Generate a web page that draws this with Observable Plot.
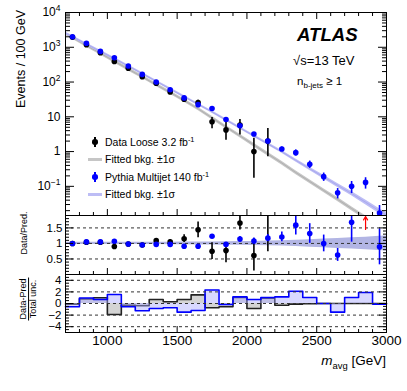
<!DOCTYPE html>
<html><head><meta charset="utf-8">
<script src="https://cdn.jsdelivr.net/npm/d3@7"></script>
<script src="https://cdn.jsdelivr.net/npm/@observablehq/plot@0.6"></script>
<style>
html,body{margin:0;padding:0;background:#fff;}
#wrap{position:relative;width:407px;height:391px;overflow:hidden;font-family:"Liberation Sans",Arial,Helvetica,sans-serif;color:#000;}
#wrap svg{position:absolute;left:0;}
.t{position:absolute;white-space:nowrap;line-height:1;}
.t sub,.t sup{font-size:0.7em;line-height:0;}
.sym{position:absolute;}
</style></head><body>
<div id="wrap"></div>
<script>
// ---------------- data ----------------
const binCenters = [750,850,950,1050,1150,1250,1350,1450,1550,1650,1750,1850,1950,2050,2150,2250,2350,2450,2550,2650,2750,2850,2950];
const binWidth = 100;

// Pythia Multijet 140 fb-1 (blue)
const pythiaEvents = [2000,1300,760,500,290,166,100,60,35,22.4,17.4,8.4,5.5,3.2,2.0,1.19,0.93,0.43,0.19,0.065,0.10,0.13,0.017];
const pythiaRelErr = [0.01,0.01,0.01,0.01,0.01,0.015,0.02,0.02,0.04,0.04,0.05,0.05,0.07,0.09,0.10,0.13,0.20,0.24,0.27,0.33,0.38,0.36,0.65];
const ratioPythia = [1.0,1.05,1.05,1.07,0.98,0.95,0.97,0.97,0.91,0.91,1.23,0.97,1.14,1.08,1.17,1.21,1.59,1.32,1.0,0.63,1.68,3.7,0.89];
const sigPythia = [-0.57,0.95,0.7,1.54,-0.57,-1.26,-0.86,-0.74,-1.49,-1.2,2.34,-0.17,1.14,0.69,1.03,1.14,2.1,1.03,0,-1.49,1.03,1.89,-0.1];

// Data Loose 3.2 fb-1 (black)
const dataCenters = [750,850,950,1050,1150,1250,1350,1450,1550,1650,1750,1850,1950,2050,2150];
const dataEvents = [1950,1180,700,390,250,142,92,52,32,25.7,7.2,4.2,5.8,1.0,2.0];
const dataErrLow = [1900,1150,680,378,242,136,87,48,29,22,4.5,2.1,3.0,0.17,0.71];
const dataErrHigh = [2000,1210,720,402,258,148,97,56,35,30,9.6,7.5,8.4,2.4,4.6];
const ratioData = [1.0,1.04,1.04,0.90,0.98,0.95,1.09,1.05,1.15,1.44,0.75,0.77,1.66,0.61,2.1];
const ratioDataLow = [0.98,1.02,1.01,0.86,0.94,0.90,1.03,0.98,1.03,1.18,0.48,0.38,1.43,0.11,0.73];
const ratioDataHigh = [1.02,1.06,1.07,0.94,1.02,1.0,1.15,1.12,1.28,1.69,1.02,1.03,2.0,1.15,3.0];
const sigData = [-0.1,0.8,1.0,-1.9,-0.3,-0.4,0.69,0.29,0.69,1.49,-0.74,-0.57,1.03,-0.86,0.91,-0.29,-0.1,-0.05,0,0,0,0,0];

// fitted background curves
const fitMass = [700,750,850,950,1050,1150,1250,1350,1450,1550,1650,1750,1850,1950,2050,2150,2250,2350,2450,2550,2650,2750,2850,2950,3000];
const fitPythia = [2540,1995,1230,759,468,288,174,105,63,38,22.9,13.8,8.1,4.8,2.8,1.66,0.98,0.56,0.32,0.186,0.107,0.062,0.035,0.0195,0.0148];
const fitPythiaUnc = [0.08,0.08,0.08,0.08,0.08,0.08,0.08,0.08,0.08,0.08,0.08,0.08,0.08,0.08,0.085,0.09,0.09,0.1,0.11,0.12,0.13,0.14,0.15,0.17,0.18];
const fitData = [2450,1905,1122,676,398,234,141,83,50,29.5,17.0,9.3,5.1,2.82,1.55,0.85,0.47,0.25,0.138,0.076,0.042,0.023,0.0126,0.0069,0.005];
const fitDataUnc = [0.11,0.11,0.11,0.11,0.11,0.11,0.11,0.11,0.11,0.11,0.11,0.11,0.11,0.11,0.12,0.12,0.12,0.12,0.12,0.13,0.13,0.13,0.13,0.13,0.13];
const ratioBandUnc = [0.035,0.035,0.035,0.035,0.035,0.035,0.035,0.035,0.04,0.045,0.05,0.05,0.055,0.06,0.065,0.075,0.085,0.1,0.12,0.14,0.16,0.18,0.2,0.23,0.24];

// axes
const xDomain = [700, 3000];
const xTickValues = [1000,1500,2000,2500,3000];
const xTickLabels = ["1000","1500","2000","2500","3000"];
const topYDomain = [0.0145, 10000];
const topYTicks = [0.1,1,10,100,1000,10000];
const topYTickLabels = ["10^\u22121","1","10","10^2","10^3","10^4"];
const ratioYDomain = [0, 1.9];
const ratioYTicks = [0.5,1,1.5];
const ratioYTickLabels = ["0.5","1","1.5"];
const sigYDomain = [-5, 5];
const sigYTicks = [-4,-2,0,2,4];
const sigYTickLabels = ["\u22124","\u22122","0","2","4"];

// ---------------- build rows ----------------
const pyRows = binCenters.map((x,i)=>({x, y:pythiaEvents[i], lo:pythiaEvents[i]*(1-pythiaRelErr[i]), hi:pythiaEvents[i]*(1+pythiaRelErr[i]),
  r:ratioPythia[i], rlo:ratioPythia[i]*(1-pythiaRelErr[i]), rhi:ratioPythia[i]*(1+pythiaRelErr[i])}));
const dataRows = dataCenters.map((x,i)=>({x, y:dataEvents[i], lo:dataErrLow[i], hi:dataErrHigh[i], r:ratioData[i], rlo:ratioDataLow[i], rhi:ratioDataHigh[i]}));
const fitRows = fitMass.map((x,i)=>({x, p:fitPythia[i], pu:fitPythiaUnc[i], g:fitData[i], gu:fitDataUnc[i], ru:ratioBandUnc[i]}));
const sigRows = binCenters.map((x,i)=>({lo:x-binWidth/2, hi:x+binWidth/2, d:sigData[i], p:sigPythia[i]}));
const stepD = sigRows.flatMap(b=>[{x:b.lo,v:b.d},{x:b.hi,v:b.d}]);
const stepP = sigRows.flatMap(b=>[{x:b.lo,v:b.p},{x:b.hi,v:b.p}]);
const offScale = pyRows.filter(d=>d.r>ratioYDomain[1]);

// minor ticks
const xMinor = d3.range(800, 3000, 100).filter(v=>!xTickValues.includes(v));
const topMinor = [];
for (let k=-2;k<=3;k++) for (let m=2;m<=9;m++){ const v=m*Math.pow(10,k); if(v>topYDomain[0]&&v<topYDomain[1]) topMinor.push(v); }
const ratioMinor = d3.range(1,19).map(v=>v/10).filter(v=>!ratioYTicks.includes(v));
const sigMinor = d3.range(-9,10).map(v=>v/2).filter(v=>!sigYTicks.includes(v));

const F = '"Liberation Sans", Arial, Helvetica, sans-serif';
const W = 407, ML = 65, MR = 21;
const noTxt = () => "";
const lab = (vals, labels) => { const m = new Map(vals.map((v,i)=>[v,labels[i]])); return d => m.get(d); };

function frameTicks({yMajor, yMinor, yMajSize, yMinSize, top}) {
  const marks = [
    Plot.axisX(xTickValues, {anchor:"bottom", tickSize:-6, tickFormat:noTxt, label:null}),
    Plot.axisX(xMinor, {anchor:"bottom", tickSize:-3, tickFormat:noTxt, label:null}),
    Plot.axisY(yMajor, {anchor:"left", tickSize:-yMajSize, tickFormat:noTxt, label:null}),
    Plot.axisY(yMinor, {anchor:"left", tickSize:-yMinSize, tickFormat:noTxt, label:null}),
    Plot.axisY(yMajor, {anchor:"right", tickSize:-yMajSize, tickFormat:noTxt, label:null}),
    Plot.axisY(yMinor, {anchor:"right", tickSize:-yMinSize, tickFormat:noTxt, label:null}),
    Plot.frame({stroke:"black", strokeWidth:1})
  ];
  if (top) marks.push(
    Plot.axisX(xTickValues, {anchor:"top", tickSize:-6, tickFormat:noTxt, label:null}),
    Plot.axisX(xMinor, {anchor:"top", tickSize:-3, tickFormat:noTxt, label:null}));
  return marks;
}

const wrap = document.getElementById("wrap");
function place(svg, top){ svg.style.top = top+"px"; svg.style.overflow="visible"; svg.style.background="transparent"; wrap.appendChild(svg); }
function superscripts(svg){
  svg.querySelectorAll("text").forEach(t=>{
    const s = t.textContent; if(!s.includes("^")) return;
    const [b,e] = s.split("^"); t.textContent = "";
    const ns="http://www.w3.org/2000/svg";
    const a=document.createElementNS(ns,"tspan"); a.textContent=b; t.appendChild(a);
    const c=document.createElementNS(ns,"tspan"); c.textContent=e; c.setAttribute("dy","-5"); c.setAttribute("font-size","8.5"); t.appendChild(c);
  });
}

// ---------------- top panel ----------------
const topPlot = Plot.plot({
  width:W, height:216, marginLeft:ML, marginRight:MR, marginTop:12, marginBottom:1,
  x:{domain:xDomain, axis:null},
  y:{type:"log", domain:topYDomain, axis:null},
  style:{fontFamily:F, background:"transparent", overflow:"visible"},
  marks:[
    Plot.areaY(fitRows, {x:"x", y1:d=>d.g*(1-d.gu), y2:d=>d.g*(1+d.gu), fill:"#c6c6c6", clip:true}),
    Plot.line(fitRows, {x:"x", y:"g", stroke:"#b0b0b0", strokeWidth:1, clip:true}),
    Plot.areaY(fitRows, {x:"x", y1:d=>d.p*(1-d.pu), y2:d=>d.p*(1+d.pu), fill:"#bdbdf5", clip:true}),
    Plot.line(fitRows, {x:"x", y:"p", stroke:"#a9a9ee", strokeWidth:1, clip:true}),
    Plot.ruleX(dataRows, {x:"x", y1:"lo", y2:"hi", stroke:"black", strokeWidth:1.6, clip:true}),
    Plot.dot(dataRows, {x:"x", y:"y", r:2.8, fill:"black", clip:true}),
    Plot.ruleX(pyRows, {x:"x", y1:"lo", y2:"hi", stroke:"#0000ff", strokeWidth:1.6, clip:true}),
    Plot.dot(pyRows, {x:"x", y:"y", r:2.8, fill:"#0000ff", clip:true}),
    ...frameTicks({yMajor:topYTicks, yMinor:topMinor, yMajSize:9, yMinSize:5, top:true}),
    Plot.axisY(topYTicks, {anchor:"left", tickSize:0, tickPadding:5, tickFormat:lab(topYTicks, topYTickLabels), fontSize:12, label:null})
  ]
});
superscripts(topPlot);
place(topPlot, 0);

// ---------------- ratio panel ----------------
const ratioPlot = Plot.plot({
  width:W, height:75, marginLeft:ML, marginRight:MR, marginTop:10, marginBottom:6,
  x:{domain:xDomain, axis:null},
  y:{domain:ratioYDomain, axis:null},
  style:{fontFamily:F, background:"transparent", overflow:"visible"},
  marks:[
    Plot.areaY(fitRows, {x:"x", y1:d=>1-d.ru, y2:d=>1+d.ru, fill:"#b2b5e4", clip:true}),
    Plot.ruleY(ratioYTicks, {stroke:"#333", strokeDasharray:"3,3", strokeWidth:1}),
    Plot.ruleX(dataRows, {x:"x", y1:"rlo", y2:"rhi", stroke:"black", strokeWidth:1.6, clip:true}),
    Plot.dot(dataRows, {x:"x", y:"r", r:2.8, fill:"black", clip:true}),
    Plot.ruleX(pyRows, {x:"x", y1:"rlo", y2:"rhi", stroke:"#0000ff", strokeWidth:1.6, clip:true}),
    Plot.dot(pyRows, {x:"x", y:"r", r:2.8, fill:"#0000ff", clip:true}),
    Plot.arrow(offScale, {x1:"x", x2:"x", y1:ratioYDomain[1]-0.45, y2:ratioYDomain[1]-0.03, stroke:"red", strokeWidth:1.2, headLength:5}),
    ...frameTicks({yMajor:ratioYTicks, yMinor:ratioMinor, yMajSize:8, yMinSize:4}),
    Plot.axisY(ratioYTicks, {anchor:"left", tickSize:0, tickPadding:3, tickFormat:lab(ratioYTicks, ratioYTickLabels), fontSize:11.5, label:null})
  ]
});
place(ratioPlot, 205);

// ---------------- significance panel ----------------
const sigPlot = Plot.plot({
  width:W, height:127, marginLeft:ML, marginRight:MR, marginTop:10, marginBottom:59,
  x:{domain:xDomain, axis:null},
  y:{domain:sigYDomain, axis:null},
  style:{fontFamily:F, background:"transparent", overflow:"visible"},
  marks:[
    Plot.rect(sigRows, {x1:"lo", x2:"hi", y1:0, y2:"d", fill:"#d4d4d4"}),
    Plot.line(stepD, {x:"x", y:"v", stroke:"#222", strokeWidth:1.6}),
    Plot.rect(sigRows, {x1:"lo", x2:"hi", y1:0, y2:"p", fill:"#a8a8ff", fillOpacity:0.45}),
    Plot.line(stepP, {x:"x", y:"v", stroke:"#0000ff", strokeWidth:1.6}),
    Plot.ruleY(sigYTicks, {stroke:"#333", strokeDasharray:"3,3", strokeWidth:1}),
    ...frameTicks({yMajor:sigYTicks, yMinor:sigMinor, yMajSize:8, yMinSize:4}),
    Plot.axisY(sigYTicks, {anchor:"left", tickSize:0, tickPadding:4, tickFormat:lab(sigYTicks, sigYTickLabels), fontSize:11.5, label:null}),
    Plot.axisX(xTickValues, {anchor:"bottom", tickSize:0, tickPadding:3, tickFormat:lab(xTickValues, xTickLabels), fontSize:13.5, label:null})
  ]
});
place(sigPlot, 264);

// ---------------- texts & legend ----------------
function addText(html, css){ const d=document.createElement("div"); d.className="t"; d.innerHTML=html; Object.assign(d.style, css); wrap.appendChild(d); return d; }
addText("ATLAS", {left:"297px", top:"26px", fontSize:"18.6px", fontWeight:"bold", fontStyle:"italic"});
addText("\u221As=13 TeV", {left:"293px", top:"54px", fontSize:"13px"});
addText("n<sub>b-jets</sub> \u2265 1", {left:"297px", top:"75.5px", fontSize:"11.5px"});
addText("<i>m</i><sub>avg</sub> [GeV]", {right:"21px", top:"353.5px", fontSize:"13.5px"});
const rot = (html, cx, cy, fs) => addText(html, {left:cx+"px", top:cy+"px", fontSize:fs+"px", transform:"translate(-50%,-50%) rotate(-90deg)"});
rot("Events / 100 GeV", 20.5, 58.5, 12.5);
rot("Data/Pred.", 23.7, 233.3, 9);
rot('<span style="display:inline-flex;flex-direction:column;align-items:center;line-height:1.05"><span style="border-bottom:1px solid #000;padding:0 1px">Data-Pred</span><span>Total unc.</span></span>', 28.5, 299, 9);

const legendRows = [
  {label:"Data Loose 3.2 fb<sup>-1</sup>", kind:"dot", color:"#000"},
  {label:"Fitted bkg. \u00B11\u03C3", kind:"band", color:"#c6c6c6"},
  {label:"Pythia Multijet 140 fb<sup>-1</sup>", kind:"dot", color:"#0000ff"},
  {label:"Fitted bkg. \u00B11\u03C3", kind:"band", color:"#bdbdf5"}
];
const legendY = [142, 159.5, 177, 194.5];
legendRows.forEach((r,i)=>{
  const c = legendY[i];
  if (r.kind==="dot"){
    const bar=document.createElement("div"); bar.className="sym";
    Object.assign(bar.style,{left:"94.2px", top:(c-5)+"px", width:"1.6px", height:"10px", background:r.color}); wrap.appendChild(bar);
    const dot=document.createElement("div"); dot.className="sym";
    Object.assign(dot.style,{left:"92.2px", top:(c-2.8)+"px", width:"5.6px", height:"5.6px", borderRadius:"50%", background:r.color}); wrap.appendChild(dot);
  } else {
    const ln=document.createElement("div"); ln.className="sym";
    Object.assign(ln.style,{left:"88px", top:(c-1.5)+"px", width:"14px", height:"3px", background:r.color}); wrap.appendChild(ln);
  }
  addText(r.label, {left:"105px", top:(c-5.1)+"px", fontSize:"10.5px"});
});
</script>
</body></html>
